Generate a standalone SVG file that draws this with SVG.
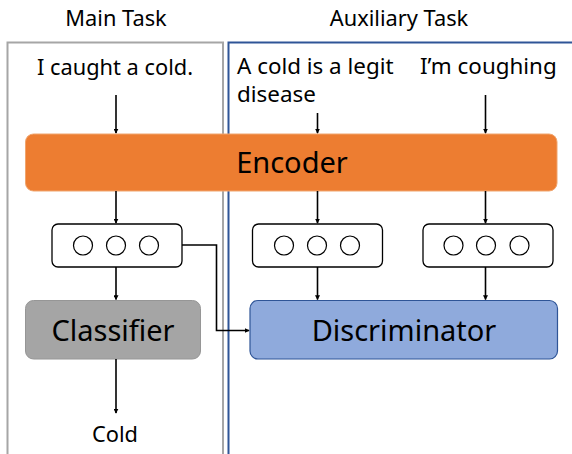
<svg xmlns="http://www.w3.org/2000/svg" width="572" height="454" viewBox="0 0 572 454">
  <style>
    text { font-family: "Noto Sans", "Open Sans", "DejaVu Sans", sans-serif; fill: #000; }
    .lbl { font-size: 21.8px; }
    .wide { font-size: 22.4px; }
    .big { font-size: 29px; text-anchor: middle; }
    .mid { text-anchor: middle; }
    .conn { stroke: #000; stroke-width: 1.6; fill: none; marker-end: url(#arrow); }
    .vec { fill: #fff; stroke: #000; stroke-width: 1.3; }
    .dot { fill: #fff; stroke: #000; stroke-width: 1.2; }
  </style>
  <defs>
    <marker id="arrow" viewBox="0 0 8 8" refX="7" refY="4" markerWidth="5" markerHeight="5" orient="auto" markerUnits="userSpaceOnUse">
      <path d="M0,0 L8,4 L0,8 Z" fill="#000"/>
    </marker>
  </defs>

  <rect width="572" height="454" fill="#fff"/>

  <!-- task panels -->
  <g id="main-task">
    <rect x="7.5" y="42.5" width="215.5" height="420" fill="none" stroke="#a6a6a6" stroke-width="2"/>
    <text class="lbl mid" x="116" y="26">Main Task</text>
  </g>
  <g id="aux-task">
    <rect x="228.5" y="42.5" width="352" height="420" fill="none" stroke="#2f5597" stroke-width="2"/>
    <text class="lbl mid" x="399" y="26">Auxiliary Task</text>
  </g>

  <!-- inputs -->
  <g id="input-main"><text class="lbl mid" x="115" y="75">I caught a cold.</text></g>
  <g id="input-aux1">
    <text class="wide" x="237" y="74"><tspan x="237" y="74">A cold is a legit</tspan><tspan x="237" y="102">disease</tspan></text>
  </g>
  <g id="input-aux2"><text class="wide" x="420" y="74">I’m coughing</text></g>

  <!-- encoder -->
  <g id="encoder">
    <rect x="25.5" y="134" width="531.5" height="57" rx="8" fill="#ed7d31" stroke="#f0a56e" stroke-width="1"/>
    <text class="big" x="292" y="173">Encoder</text>
  </g>

  <!-- hidden vectors -->
  <g id="vec-main">
    <rect class="vec" x="52" y="224" width="130" height="43" rx="6"/>
    <circle class="dot" cx="83" cy="245.5" r="9.5"/>
    <circle class="dot" cx="116" cy="245.5" r="9.5"/>
    <circle class="dot" cx="149" cy="245.5" r="9.5"/>
  </g>
  <g id="vec-aux1">
    <rect class="vec" x="252.5" y="224" width="130" height="43" rx="6"/>
    <circle class="dot" cx="284" cy="245.5" r="9.5"/>
    <circle class="dot" cx="317" cy="245.5" r="9.5"/>
    <circle class="dot" cx="350" cy="245.5" r="9.5"/>
  </g>
  <g id="vec-aux2">
    <rect class="vec" x="423" y="224" width="130" height="43" rx="6"/>
    <circle class="dot" cx="453.5" cy="245.5" r="9.5"/>
    <circle class="dot" cx="486" cy="245.5" r="9.5"/>
    <circle class="dot" cx="519.5" cy="245.5" r="9.5"/>
  </g>

  <!-- heads -->
  <g id="classifier">
    <rect x="25.5" y="300.5" width="175" height="58.5" rx="8" fill="#a5a5a5" stroke="#969696" stroke-width="1"/>
    <text class="big" x="113" y="341">Classifier</text>
  </g>
  <g id="discriminator">
    <rect x="250" y="300.5" width="307.5" height="58.5" rx="8" fill="#8faadc" stroke="#2f5597" stroke-width="1.2"/>
    <text class="big" x="404" y="341">Discriminator</text>
  </g>

  <!-- output -->
  <g id="output"><text class="lbl mid" x="115" y="442">Cold</text></g>

  <!-- connectors -->
  <g id="connectors">
    <line class="conn" x1="116" y1="95" x2="116" y2="133"/>
    <line class="conn" x1="317.5" y1="113" x2="317.5" y2="133"/>
    <line class="conn" x1="485.5" y1="95" x2="485.5" y2="133"/>
    <line class="conn" x1="116" y1="191" x2="116" y2="223"/>
    <line class="conn" x1="317.5" y1="191" x2="317.5" y2="223"/>
    <line class="conn" x1="485.5" y1="191" x2="485.5" y2="223"/>
    <line class="conn" x1="116" y1="267" x2="116" y2="299.5"/>
    <line class="conn" x1="317.5" y1="267" x2="317.5" y2="299.5"/>
    <line class="conn" x1="485.5" y1="267" x2="485.5" y2="299.5"/>
    <polyline class="conn" points="182,245 216.5,245 216.5,330.5 249,330.5"/>
    <line class="conn" x1="116" y1="359" x2="116" y2="413"/>
  </g>
</svg>
